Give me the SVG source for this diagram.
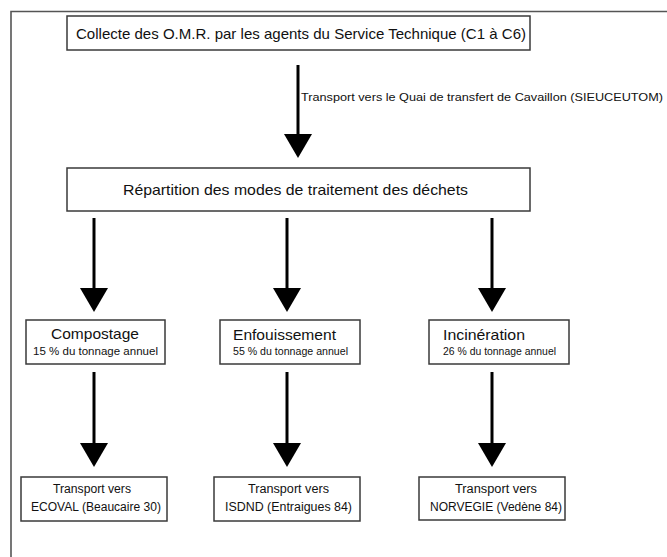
<svg xmlns="http://www.w3.org/2000/svg" width="667" height="557" viewBox="0 0 667 557">
<defs>
<style>
.box{fill:#fff;stroke:#3a3a3a;stroke-width:1.5}
.t{font-family:"Liberation Sans",Arial,sans-serif;fill:#111}
.big{font-size:15px}
.mid{font-size:12.5px}
.sm{font-size:10.5px}
.lab{font-size:11px}
.conn line{stroke:#000;stroke-width:3}
</style>
<marker id="ah" viewBox="0 0 24 28" refX="14" refY="14" markerWidth="24" markerHeight="28" markerUnits="userSpaceOnUse" orient="auto">
<path d="M0,0 L24,14 L0,28 z" fill="#000"/>
</marker>
</defs>
<rect width="667" height="557" fill="#fff"/>
<g id="frame">
<path d="M11,557 L11,11.5 L667,11.5" fill="none" stroke="#555" stroke-width="1.6"/>
</g>
<g class="conn" id="connectors">
<line x1="298" y1="65" x2="298" y2="148" marker-end="url(#ah)"/>
<line x1="94" y1="218" x2="94" y2="302" marker-end="url(#ah)"/>
<line x1="287" y1="218" x2="287" y2="302" marker-end="url(#ah)"/>
<line x1="492" y1="218" x2="492" y2="302" marker-end="url(#ah)"/>
<line x1="94" y1="372" x2="94" y2="457" marker-end="url(#ah)"/>
<line x1="287" y1="372" x2="287" y2="457" marker-end="url(#ah)"/>
<line x1="492" y1="372" x2="492" y2="457" marker-end="url(#ah)"/>
<text class="t lab" x="301" y="101" textLength="362" lengthAdjust="spacingAndGlyphs">Transport vers le Quai de transfert de Cavaillon (SIEUCEUTOM)</text>
</g>
<g id="collecte">
<rect class="box" x="67" y="16" width="463" height="34"/>
<text class="t big" x="76" y="38.5" textLength="450" lengthAdjust="spacingAndGlyphs">Collecte des O.M.R. par les agents du Service Technique (C1 à C6)</text>
</g>
<g id="repartition">
<rect class="box" x="67" y="168" width="463" height="43"/>
<text class="t big" x="123" y="194.5" textLength="345" lengthAdjust="spacingAndGlyphs">Répartition des modes de traitement des déchets</text>
</g>
<g id="compostage">
<rect class="box" x="26" y="320" width="139" height="44"/>
<text class="t big" x="51" y="338.5" textLength="88" lengthAdjust="spacingAndGlyphs">Compostage</text>
<text class="t sm" x="33" y="355" textLength="125" lengthAdjust="spacingAndGlyphs">15 % du tonnage annuel</text>
</g>
<g id="enfouissement">
<rect class="box" x="220" y="320" width="140" height="44"/>
<text class="t big" x="233" y="340" textLength="103" lengthAdjust="spacingAndGlyphs">Enfouissement</text>
<text class="t sm" x="233" y="355" textLength="115" lengthAdjust="spacingAndGlyphs">55 % du tonnage annuel</text>
</g>
<g id="incineration">
<rect class="box" x="429" y="320" width="140" height="44"/>
<text class="t big" x="443" y="340" textLength="82" lengthAdjust="spacingAndGlyphs">Incinération</text>
<text class="t sm" x="443" y="355" textLength="113" lengthAdjust="spacingAndGlyphs">26 % du tonnage annuel</text>
</g>
<g id="ecoval">
<rect class="box" x="21" y="477" width="146" height="44"/>
<text class="t mid" x="53" y="493" textLength="78" lengthAdjust="spacingAndGlyphs">Transport vers</text>
<text class="t mid" x="31" y="511" textLength="130" lengthAdjust="spacingAndGlyphs">ECOVAL (Beaucaire 30)</text>
</g>
<g id="isdnd">
<rect class="box" x="214" y="477" width="146" height="44"/>
<text class="t mid" x="248" y="493" textLength="81" lengthAdjust="spacingAndGlyphs">Transport vers</text>
<text class="t mid" x="225" y="511" textLength="127" lengthAdjust="spacingAndGlyphs">ISDND (Entraigues 84)</text>
</g>
<g id="norvegie">
<rect class="box" x="419" y="477" width="146" height="43"/>
<text class="t mid" x="455" y="493" textLength="82" lengthAdjust="spacingAndGlyphs">Transport vers</text>
<text class="t mid" x="430" y="511" textLength="132" lengthAdjust="spacingAndGlyphs">NORVEGIE (Vedène 84)</text>
</g>
</svg>
